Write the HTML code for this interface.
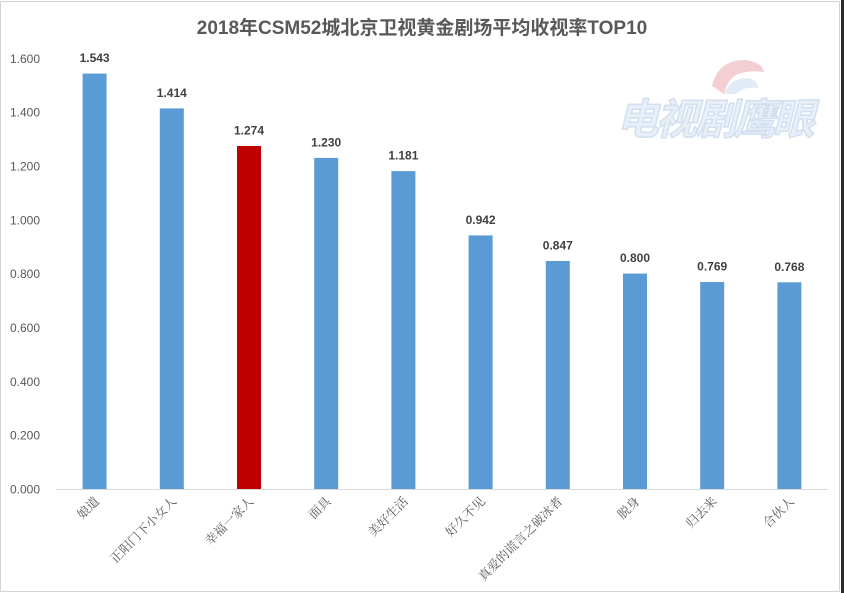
<!DOCTYPE html>
<html>
<head>
<meta charset="utf-8">
<style>
  html,body{margin:0;padding:0;background:#fff;}
  body{width:844px;height:593px;overflow:hidden;}
  svg{display:block;}
  .t{font-family:"Liberation Sans","Noto Sans CJK SC",sans-serif;}
  .c{font-family:"Liberation Serif","Noto Serif CJK SC",serif;}
</style>
</head>
<body>
<svg width="844" height="593" viewBox="0 0 844 593" xmlns="http://www.w3.org/2000/svg">
  <rect x="0" y="0" width="844" height="593" fill="#fff"/>
  <rect x="0.5" y="1.5" width="839" height="590" fill="none" stroke="#d4d4d4" stroke-width="1"/>
  <rect x="841" y="0" width="3" height="593" fill="#2a2a2a"/>

  <!-- watermark -->
  <g opacity="0.9">
    <path d="M712 86 Q718 60 745 60 Q762 62 764 72 Q748 70 738 74 Q728 78 724 94 Z" fill="#f2c9cf"/>
    <path d="M724 94 Q730 78 748 78 Q758 80 758 88 Q744 86 736 94 Z" fill="#dfe9f4"/>
    <text x="714" y="134" text-anchor="middle" class="t" font-size="42" font-weight="bold" font-style="italic" fill="#e6eef8" stroke="#cddcee" stroke-width="1.5" letter-spacing="-3">电视剧鹰眼</text>
  </g>

  <!-- title -->
  <text x="422" y="34" text-anchor="middle" class="t" font-size="19" font-weight="bold" fill="#595959">2018年CSM52城北京卫视黄金剧场平均收视率TOP10</text>

  <!-- y axis labels -->
  <g class="t" font-size="12" fill="#595959" text-anchor="end">
    <text x="40" y="493.5">0.000</text>
    <text x="40" y="439.7">0.200</text>
    <text x="40" y="385.9">0.400</text>
    <text x="40" y="332.0">0.600</text>
    <text x="40" y="278.2">0.800</text>
    <text x="40" y="224.4">1.000</text>
    <text x="40" y="170.6">1.200</text>
    <text x="40" y="116.7">1.400</text>
    <text x="40" y="62.9">1.600</text>
  </g>

  <!-- axis -->
  <line x1="56" y1="489.5" x2="828" y2="489.5" stroke="#d9d9d9" stroke-width="1"/>

  <!-- bars -->
  <g>
    <rect x="82.6" y="73.6" width="24" height="415.4" fill="#5B9BD5"/>
    <rect x="159.8" y="108.4" width="24" height="380.6" fill="#5B9BD5"/>
    <rect x="237" y="146.0" width="24" height="343.0" fill="#C00000"/>
    <rect x="314.2" y="157.9" width="24" height="331.1" fill="#5B9BD5"/>
    <rect x="391.4" y="171.1" width="24" height="317.9" fill="#5B9BD5"/>
    <rect x="468.6" y="235.4" width="24" height="253.6" fill="#5B9BD5"/>
    <rect x="545.8" y="261.0" width="24" height="228.0" fill="#5B9BD5"/>
    <rect x="623" y="273.6" width="24" height="215.4" fill="#5B9BD5"/>
    <rect x="700.2" y="282.0" width="24" height="207.0" fill="#5B9BD5"/>
    <rect x="777.4" y="282.3" width="24" height="206.7" fill="#5B9BD5"/>
  </g>

  <!-- data labels -->
  <g class="t" font-size="12" font-weight="bold" fill="#404040" text-anchor="middle">
    <text x="94.6" y="62.1">1.543</text>
    <text x="171.8" y="96.9">1.414</text>
    <text x="249" y="134.5">1.274</text>
    <text x="326.2" y="146.4">1.230</text>
    <text x="403.4" y="159.6">1.181</text>
    <text x="480.6" y="223.9">0.942</text>
    <text x="557.8" y="249.5">0.847</text>
    <text x="635" y="262.1">0.800</text>
    <text x="712.2" y="270.5">0.769</text>
    <text x="789.4" y="270.8">0.768</text>
  </g>

  <!-- category labels -->
  <g class="c" font-size="12.5" fill="#595959" text-anchor="end">
    <text transform="translate(100,502) rotate(-45)">娘道</text>
    <text transform="translate(177.2,502) rotate(-45)">正阳门下小女人</text>
    <text transform="translate(254.4,502) rotate(-45)">幸福一家人</text>
    <text transform="translate(331.6,502) rotate(-45)">面具</text>
    <text transform="translate(408.8,502) rotate(-45)">美好生活</text>
    <text transform="translate(486,502) rotate(-45)">好久不见</text>
    <text transform="translate(563.2,502) rotate(-45)">真爱的谎言之破冰者</text>
    <text transform="translate(640.4,502) rotate(-45)">脱身</text>
    <text transform="translate(717.6,502) rotate(-45)">归去来</text>
    <text transform="translate(794.8,502) rotate(-45)">合伙人</text>
  </g>
</svg>
</body>
</html>
